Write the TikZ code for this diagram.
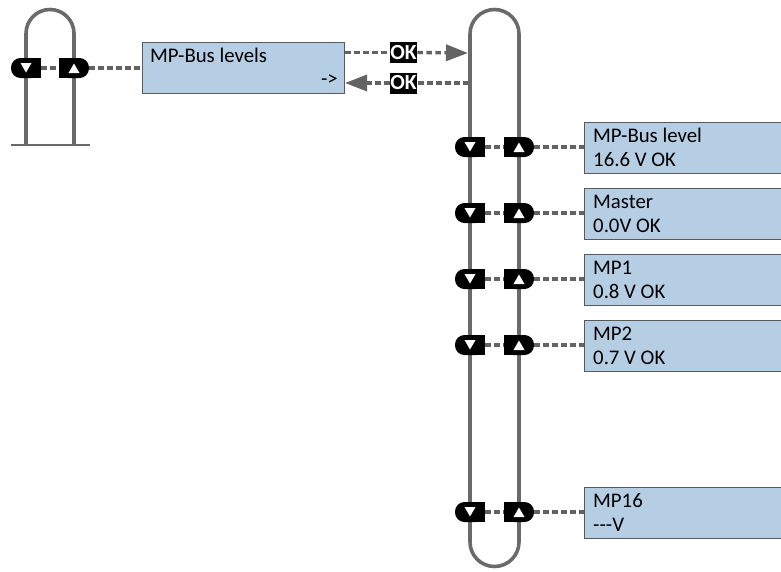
\documentclass[tikz,border=0pt]{standalone}
\usepackage{fontspec}
\setmainfont{Carlito}
\usetikzlibrary{arrows.meta}
\definecolor{loopgray}{HTML}{6A6A6A}
\definecolor{dashgray}{HTML}{636363}
\definecolor{lcdblue}{HTML}{B5CEE4}
\definecolor{lcdborder}{HTML}{595959}
\tikzset{
  loopline/.style={draw=loopgray, line width=3.6pt},
  groundline/.style={draw=loopgray, line width=1.3pt},
  dashconn/.style={draw=dashgray, line width=3.4pt, dash pattern=on 5.5pt off 3.5pt},
  lcd/.style={draw=lcdborder, fill=lcdblue, line width=1pt, inner sep=0pt, anchor=north west},
  lcdtext/.style={anchor=base west, inner sep=0pt, font=\fontsize{20.8}{24}\selectfont},
  okbox/.style={fill=black, text=white, inner xsep=0.6pt, inner ysep=0pt, minimum height=21pt,
                font=\fontsize{21.5}{24}\selectfont\bfseries},
  arrowtip/.style={-{Triangle[length=22pt,width=16pt]}},
}
\newcommand\downbtn[3]{%
  \fill[black, rounded corners=9.5pt] (#2-15,#3-10) rectangle (#2+15,#3+10);
  \fill[black] (#2,#3-10) rectangle (#2+15,#3+10);
  \fill[white] (#2-5.5,#3-5) -- (#2+5.5,#3-5) -- (#2,#3+4.5) -- cycle;
  \coordinate (#1) at (#2+15,#3);}
\newcommand\upbtn[3]{%
  \fill[black, rounded corners=9.5pt] (#2-15,#3-10) rectangle (#2+15,#3+10);
  \fill[black] (#2-15,#3-10) rectangle (#2,#3+10);
  \fill[white] (#2-5.5,#3+5) -- (#2+5.5,#3+5) -- (#2,#3-4.5) -- cycle;
  \coordinate (#1-L) at (#2-15,#3);
  \coordinate (#1-R) at (#2+15,#3);}
\begin{document}
\begin{tikzpicture}[x=1pt,y=-1pt]
\useasboundingbox (0,0) rectangle (781,571);
% left loop
\draw[loopline] (26,145) -- (26,33.5) arc[start angle=180,end angle=360,radius=24] -- (74,145);
\draw[groundline] (11,145) -- (90,145);
% right loop
\draw[loopline] (470,34) arc[start angle=180,end angle=360,radius=24.5] -- (519,542)
   arc[start angle=0,end angle=180,radius=24.5] -- cycle;
% left buttons
\downbtn{ld}{26}{68}
\upbtn{lu}{74}{68}
\draw[dashconn] (ld) -- (lu-L);
% MP-Bus levels box
\node[lcd, minimum width=202pt, minimum height=51pt] (main) at (142,42) {};
\node[lcdtext] (maint) at (150,62) {MP-Bus levels};
\node[anchor=base east, inner sep=0pt, font=\fontsize{20.8}{24}\selectfont] (mainarr) at (338,85) {->};
\draw[dashconn] (lu-R) -- (lu-R -| main.west);
% OK connectors
\coordinate (rtop) at (468,53);
\coordinate (rbot) at (468.5,83);
\node[okbox] (ok1) at (403.5,52.5) {OK};
\node[okbox] (ok2) at (403.5,83) {OK};
\draw[dashconn] (main.east |- ok1) -- (ok1.west);
\draw[dashconn, arrowtip] (ok1.east) -- (rtop);
\draw[dashconn] (rbot) -- (ok2.east);
\draw[dashconn, arrowtip] (ok2.west) -- (main.east |- ok2);
% right rows
\foreach \i/\t/\a/\b in {1/122/MP-Bus level/16.6 V OK, 2/188/Master/0.0V OK, 3/254/MP1/0.8 V OK, 4/320/MP2/0.7 V OK, 5/487/MP16/{-}{-}{-}V}{
  \downbtn{rd\i}{470}{\t+25}
  \upbtn{ru\i}{519}{\t+25}
  \draw[dashconn] (rd\i) -- (ru\i-L);
  \node[lcd, minimum width=200pt, minimum height=51pt] (box\i) at (584,\t) {};
  \node[lcdtext] (boxa\i) at (593,\t+20) {\a};
  \node[lcdtext] (boxb\i) at (593,\t+44) {\b};
  \draw[dashconn] (ru\i-R) -- (ru\i-R -| box\i.west);
}
\end{tikzpicture}
\end{document}
